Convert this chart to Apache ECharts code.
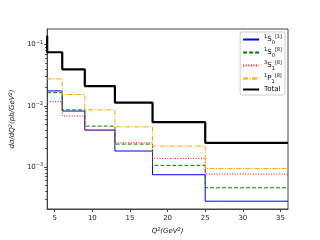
<!DOCTYPE html>
<html><head><meta charset="utf-8">
<script src="https://cdn.jsdelivr.net/npm/echarts@6/dist/echarts.min.js"></script>
<style>html,body{margin:0;padding:0;background:#fff}#c{width:320px;height:240px}</style>
</head><body><div id="c"></div>
<script>
// bin edges in Q^2 (GeV^2)
var edges = [4, 6, 9, 13, 18, 25, 36];
// values: first entry is the value at the left edge (step 'start'), then one value per bin
var s0_1 = [0.0175, 0.0175, 0.0082, 0.0040, 0.00182, 0.000745, 0.000275];
var s0_8 = [0.0164, 0.0164, 0.00857, 0.00464, 0.00236, 0.00106, 0.000456];
var s1_8 = [0.0117, 0.0117, 0.0068, 0.0040, 0.00248, 0.00138, 0.000764];
var p1_8 = [0.0275, 0.0275, 0.0153, 0.00857, 0.00453, 0.00219, 0.00094];
var total = [0.139, 0.075, 0.0394, 0.021, 0.01125, 0.0054, 0.00248];
var names = ['s01', 's08', 's18', 'p18', 'Total'];
var xTicks = [5, 10, 15, 20, 25, 30, 35];
var yTicks = [0.001, 0.01, 0.1];
var yTickText = ['\u22123', '\u22122', '\u22121'];
var yMinor = [3e-4,4e-4,5e-4,6e-4,7e-4,8e-4,9e-4,2e-3,3e-3,4e-3,5e-3,6e-3,7e-3,8e-3,9e-3,2e-2,3e-2,4e-2,5e-2,6e-2,7e-2,8e-2,9e-2];

function pts(v){ return edges.map(function(x,i){ return [x, v[i]]; }); }
var chart = echarts.init(document.getElementById('c'), null, {renderer:'canvas'});
var F = 'DejaVu Sans';
var YMIN = 2.05e-4, YMAX = 0.18;
var legendRich = {
  sup:{fontSize:5, verticalAlign:'top', lineHeight:11, fontFamily:F, color:'#000'},
  sub:{fontSize:5, verticalAlign:'bottom', lineHeight:11, fontFamily:F, color:'#000'},
  n:{fontSize:7, lineHeight:11, fontFamily:F, color:'#000'}
};
var legendText = {
  s01:'{sup|1}{n|S}{sub|0}{sup|[1]}',
  s08:'{sup|1}{n|S}{sub|0}{sup|[8]}',
  s18:'{sup|3}{n|S}{sub|1}{sup|[8]}',
  p18:'{sup|1}{n|P}{sub|1}{sup|[8]}',
  Total:'{n|Total}'
};
function mk(name, v, color, type, width){
  return {name:name, type:'line', step:'start', data:pts(v), symbol:'none', showSymbol:false,
    lineStyle:{color:color, type:type, width:width}, itemStyle:{color:color},
    xAxisIndex:0, yAxisIndex:0, animation:false, z: name==='Total'?3:2};
}
var yRich = {b:{fontSize:7, fontFamily:F, color:'#222'}, s:{fontSize:5, verticalAlign:'top', lineHeight:9, fontFamily:F, color:'#222'}};
chart.setOption({
  animation:false,
  grid:{left:40, top:29, right:32, bottom:27, show:true, borderColor:'#444', borderWidth:1, backgroundColor:'#fff'},
  legend:{right:35, top:32, orient:'vertical', itemWidth:16, itemHeight:8, itemGap:2,
    borderColor:'#ccc', borderWidth:1, borderRadius:2, padding:[2,3,2,2], backgroundColor:'#fff',
    itemStyle:{opacity:0},
    data:names, formatter:function(n){return legendText[n];}, textStyle:{rich:legendRich}},
  xAxis:[{type:'value', min:4, max:36, position:'bottom',
    axisLine:{show:true, onZero:false, lineStyle:{color:'#444'}},
    axisTick:{show:true, customValues:xTicks, length:3, lineStyle:{color:'#444'}},
    axisLabel:{customValues:xTicks, fontSize:7, fontFamily:F, color:'#222', margin:6},
    splitLine:{show:false},
    name:'Q{s|2}(GeV{s|2})', nameLocation:'middle', nameGap:18,
    nameTextStyle:{fontSize:7, fontFamily:F, fontStyle:'italic', color:'#222',
      rich:{s:{fontSize:5, verticalAlign:'top', lineHeight:9, fontStyle:'italic', fontFamily:F, color:'#222'}}}
  }],
  yAxis:[{type:'log', logBase:10, min:YMIN, max:YMAX,
    axisLine:{show:true, lineStyle:{color:'#444'}},
    axisTick:{show:true, customValues:yTicks, length:3, lineStyle:{color:'#444'}},
    axisLabel:{customValues:yTicks, fontFamily:F, color:'#222', margin:4,
      formatter:function(v){ var i = yTicks.findIndex(function(t){return Math.abs(t-v)/t<1e-6;}); return '{b|10}{s|' + yTickText[i] + '}'; },
      rich:yRich},
    splitLine:{show:false}, minorTick:{show:false},
    name:'dσ/dQ{s|2}(pb/GeV{s|2})', nameLocation:'middle', nameGap:26,
    nameTextStyle:{fontSize:7, fontFamily:F, fontStyle:'italic', color:'#222',
      rich:{s:{fontSize:5, verticalAlign:'top', lineHeight:9, fontStyle:'italic', fontFamily:F, color:'#222'}}}
  },{type:'log', logBase:10, min:YMIN, max:YMAX, position:'left',
    axisLine:{show:false}, axisLabel:{show:false}, splitLine:{show:false},
    axisTick:{show:true, customValues:yMinor, length:2, lineStyle:{color:'#444'}}
  }],
  series:[
    mk('s01', s0_1, '#0000ff', 'solid', 1),
    mk('s08', s0_8, '#008000', [4,2], 1),
    mk('s18', s1_8, '#ff0000', [1,1.6], 1),
    mk('p18', p1_8, '#ffa500', [5,1.5,1,1.5], 1),
    mk('Total', total, '#000000', 'solid', 2.2)
  ]
});
</script></body></html>
